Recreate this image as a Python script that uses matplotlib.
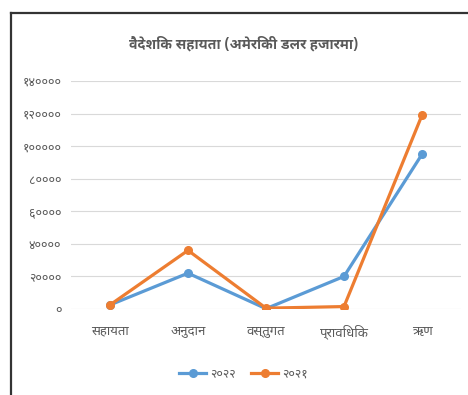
import matplotlib
matplotlib.use("Agg")
from matplotlib import pyplot as plt
from matplotlib import font_manager
from matplotlib.lines import Line2D
from matplotlib.ticker import FuncFormatter

categories = ["सहायता", "अनुदान", "वस्तुगत", "प्राविधिक", "ऋण"]
aid_2022 = [2500, 22000, 200, 20000, 95000]
aid_2021 = [2500, 36000, 500, 1500, 119000]
series_names = ["२०२२", "२०२१"]
title = "वैदेशिक सहायता (अमेरिकी डलर हजारमा)"

DEV_DIGITS = "०१२३४५६७८९"


def pick_family(wanted):
    names = {f.name for f in font_manager.fontManager.ttflist}
    for want in wanted:
        if want in names:
            return want
    for n in sorted(names):
        if "Devanagari" in n:
            return n
    return "DejaVu Sans"


dev_family = pick_family(["Noto Sans Devanagari", "Noto Sans Devanagari UI", "Mukta", "Hind"])
title_family = pick_family(["Noto Sans Devanagari UI", "Noto Sans Devanagari", "Mukta"])
plt.rcParams['font.family'] = [dev_family, "DejaVu Sans"]

grey = "#595959"

fig = plt.figure(figsize=(4.68, 3.95), dpi=100)
ax = fig.add_axes([71 / 468, 1 - 309 / 395, 390 / 468, 228 / 395])

x = range(len(categories))
ax.plot(x, aid_2022, color="#5B9BD5", lw=2.3, marker="o", ms=5.5,
        label=series_names[0], zorder=3)
ax.plot(x, aid_2021, color="#ED7D31", lw=2.3, marker="o", ms=5.5,
        label=series_names[1], zorder=4)

ax.set_xlim(-0.5, len(categories) - 0.5)
ax.set_ylim(0, 140000)
ax.set_yticks(range(0, 140001, 20000))
ax.yaxis.set_major_formatter(FuncFormatter(
    lambda v, p: "".join(DEV_DIGITS[int(c)] for c in str(int(v)))))
ax.set_xticks(list(x))
ax.set_xticklabels(categories)
ax.tick_params(length=0, colors=grey, labelsize=9)
ax.tick_params(axis="x", labelsize=9.5, pad=11)
ax.tick_params(axis="y", pad=7)
ax.grid(axis="y", color="#d9d9d9", lw=0.8)
ax.set_axisbelow(True)
for s in ax.spines.values():
    s.set_visible(False)

fig.text(0.52, 1 - 45 / 395, title, ha="center", va="center",
         fontsize=10.2, fontweight="bold", color=grey,
         family=[title_family, dev_family, "DejaVu Sans"])

ax.legend(loc="center", bbox_to_anchor=(0.52, 1 - 374 / 395), bbox_transform=fig.transFigure,
          ncol=2, frameon=False, fontsize=9, labelcolor=grey, handlelength=2.2,
          columnspacing=1.2, handletextpad=0.3)

# border of the pasted chart
fig.add_artist(Line2D([10.5 / 468, 10.5 / 468], [0, 1 - 12.5 / 395],
                      transform=fig.transFigure, color="#333333", lw=1.6))
fig.add_artist(Line2D([10.5 / 468, 1], [1 - 12.5 / 395, 1 - 12.5 / 395],
                      transform=fig.transFigure, color="#333333", lw=1.6))

fig.savefig("out.png", dpi=100)
